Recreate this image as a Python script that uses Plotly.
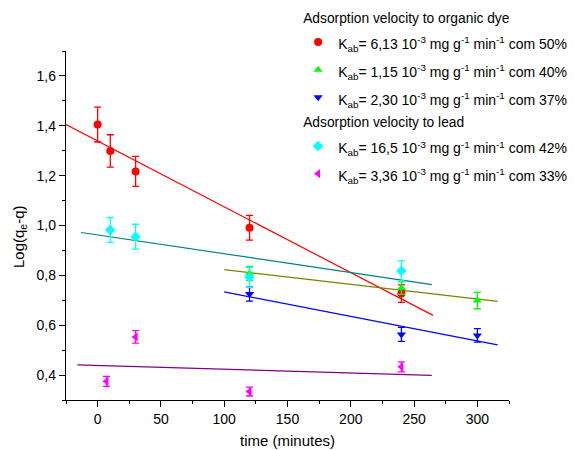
import numpy as np
import plotly.graph_objects as go

# ---- data ----
dye50_x = [0, 10, 30, 120, 240]
dye50_y = [1.405, 1.299, 1.217, 0.991, 0.727]
dye50_e = [0.07, 0.065, 0.06, 0.05, 0.035]

dye40_x = [120, 240, 300]
dye40_y = [0.808, 0.749, 0.699]
dye40_e = [0.028, 0.025, 0.033]

dye37_x = [120, 240, 300]
dye37_y = [0.725, 0.563, 0.559]
dye37_e = [0.028, 0.028, 0.027]

lead42_x = [10, 30, 120, 240]
lead42_y = [0.982, 0.955, 0.792, 0.818]
lead42_e = [0.05, 0.05, 0.04, 0.04]

lead33_x = [7, 30, 120, 240]
lead33_y = [0.375, 0.553, 0.334, 0.433]
lead33_e = [0.02, 0.025, 0.018, 0.02]

# x-extent of each fitted line
fit50_range = [-25, 265]
fit40_range = [100, 316]
fit37_range = [100, 316]
fit42_range = [-13, 264]
fit33_range = [-16, 264]

legend_names = [
    "K<sub>ab</sub>= 6,13 10<sup>-3</sup> mg g<sup>-1</sup> min<sup>-1</sup> com 50%",
    "K<sub>ab</sub>= 1,15 10<sup>-3</sup> mg g<sup>-1</sup> min<sup>-1</sup> com 40%",
    "K<sub>ab</sub>= 2,30 10<sup>-3</sup> mg g<sup>-1</sup> min<sup>-1</sup> com 37%",
    "K<sub>ab</sub>= 16,5 10<sup>-3</sup> mg g<sup>-1</sup> min<sup>-1</sup> com 42%",
    "K<sub>ab</sub>= 3,36 10<sup>-3</sup> mg g<sup>-1</sup> min<sup>-1</sup> com 33%",
]
group_titles = ["Adsorption velocity to organic dye", "Adsorption velocity to lead"]
x_title = "time (minutes)"
y_title = "Log(q<sub>e</sub>-q)"

series = [
    (dye50_x, dye50_y, dye50_e, fit50_range, "circle", "#ff0000", "#ff0000", 0),
    (dye40_x, dye40_y, dye40_e, fit40_range, "triangle-up", "#00ff00", "#808000", 0),
    (dye37_x, dye37_y, dye37_e, fit37_range, "triangle-down", "#0000ff", "#0000ff", 0),
    (lead42_x, lead42_y, lead42_e, fit42_range, "diamond", "#00ffff", "#008080", 1),
    (lead33_x, lead33_y, lead33_e, fit33_range, "triangle-left", "#ff00ff", "#800080", 1),
]

fig = go.Figure()
FONT = "Arial, Liberation Sans, sans-serif"

# fitted lines (linear regression of each series)
for (xs, ys, es, rng, sym, mcol, lcol, g) in series:
    k, b = np.polyfit(xs, ys, 1)
    lx = np.array(rng, dtype=float)
    fig.add_trace(go.Scatter(x=lx, y=k * lx + b, mode="lines",
                             line=dict(color=lcol, width=1.2),
                             showlegend=False, hoverinfo="skip"))

for i, (xs, ys, es, rng, sym, mcol, lcol, g) in enumerate(series):
    fig.add_trace(go.Scatter(
        x=xs, y=ys, mode="markers",
        marker=dict(symbol=sym, color=mcol, size=8, line=dict(width=0)),
        error_y=dict(type="data", array=es, visible=True, color=mcol,
                     thickness=1.3, width=3.5),
        name='<span style="font-size:14px">' + legend_names[i] + '</span>',
        legendgroup="g%d" % g,
        legendgrouptitle=dict(text=group_titles[g], font=dict(size=13.8, color="black", family=FONT)),
    ))

fig.add_annotation(text=y_title, textangle=-90, xref="paper", yref="paper",
                   x=-0.106, y=0.467, xanchor="center", yanchor="middle",
                   showarrow=False, font=dict(size=15, family=FONT, color="black"))

fig.update_layout(
    width=575, height=450,
    margin=dict(l=58, r=74, t=43, b=58, autoexpand=False),
    paper_bgcolor="white", plot_bgcolor="white",
    separators=",.",
    font=dict(family=FONT, size=14, color="black"),
    showlegend=True,
    legend=dict(x=0.524, y=1.14, xanchor="left", yanchor="top",
                bgcolor="rgba(0,0,0,0)", font=dict(size=19, family=FONT),
                tracegroupgap=0, itemsizing="trace"),
    xaxis=dict(range=[-25, 325], dtick=50, tick0=0, showgrid=False, zeroline=False,
               showline=True, linecolor="black", linewidth=1.3,
               ticks="outside", ticklen=6, tickwidth=1.3, tickcolor="black",
               minor=dict(dtick=25, tick0=0, ticks="outside", ticklen=3, tickwidth=1.3, tickcolor="black"),
               title=dict(text=x_title, font=dict(size=15), standoff=9),
               tickfont=dict(size=14)),
    yaxis=dict(range=[0.3, 1.7], dtick=0.2, tick0=0, tickformat=".1f", showgrid=False, zeroline=False,
               showline=True, linecolor="black", linewidth=1.3,
               ticks="outside", ticklen=6, tickwidth=1.3, tickcolor="black",
               minor=dict(dtick=0.1, tick0=0, ticks="outside", ticklen=3, tickwidth=1.3, tickcolor="black"),
               tickfont=dict(size=14)),
)

fig.write_html("out.html")
